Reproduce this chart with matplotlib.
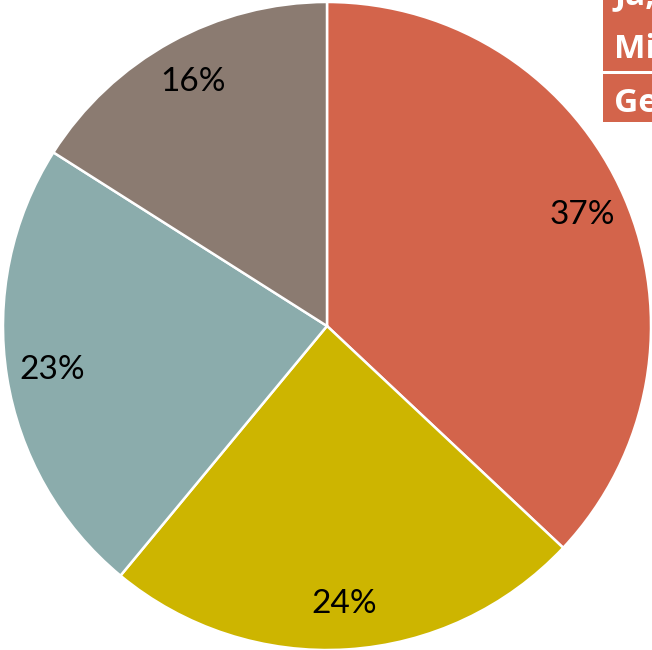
import matplotlib.pyplot as plt
from matplotlib.patches import Rectangle

# slice data (clockwise from 12 o'clock)
shares = [37, 24, 23, 16]
colors = ["#D3644B", "#CDB500", "#8BACAC", "#8B7B71"]
# legend entries, cropped by the picture edge in the original
legend_labels = ["Ja,", "Mi", "Ge"]

plt.rcParams["font.family"] = ["Lato", "DejaVu Sans"]

fig = plt.figure(figsize=(6.52, 6.50), dpi=100)
ax = fig.add_axes([3 / 652, 0, 648 / 652, 648 / 650])

wedges, texts, autotexts = ax.pie(
    shares, colors=colors, startangle=90, counterclock=False,
    autopct="%d%%", pctdistance=0.86,
    wedgeprops=dict(edgecolor="white", linewidth=1.8),
    textprops=dict(fontsize=24, color="black"))
ax.set_xlim(-1, 1)
ax.set_ylim(-1, 1)
ax.set_aspect("equal")

# cropped legend boxes at top right
W, H = 652, 650
for x0, y0, y1 in [(603, 0, 71), (603, 74, 122)]:
    fig.patches.append(Rectangle((x0 / W, 1 - y1 / H), (W - x0) / W, (y1 - y0) / H,
                                 transform=fig.transFigure, facecolor="#D3644B",
                                 edgecolor="none"))
for lab, y in zip(legend_labels, [-8, 45, 100]):
    fig.text(614 / W, 1 - y / H, lab, color="white", fontsize=24,
             fontweight="bold", family="Open Sans", va="center_baseline", ha="left")

fig.savefig("out.png", dpi=100)
